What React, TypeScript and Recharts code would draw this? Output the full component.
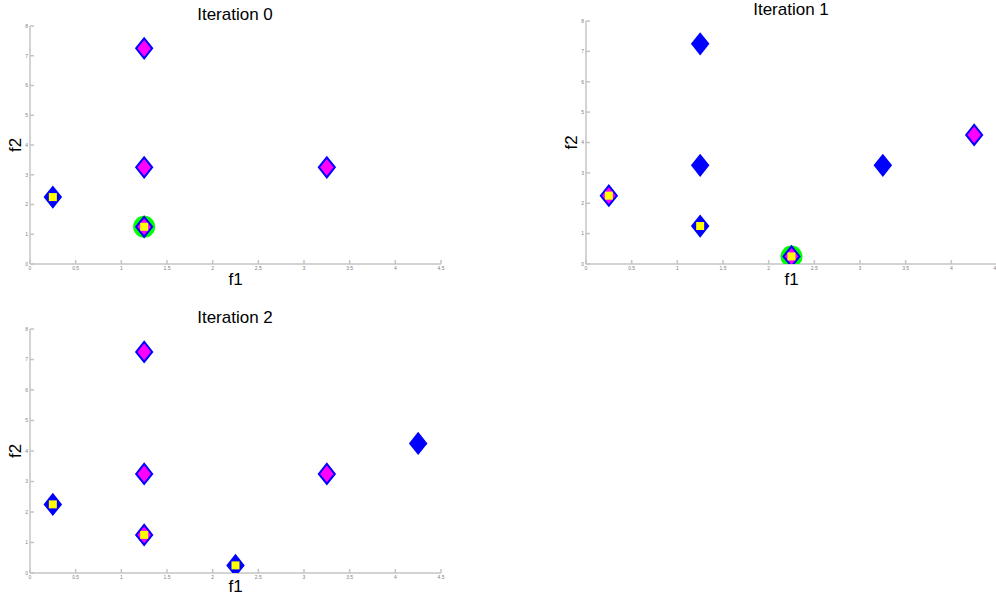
import { ScatterChart, Scatter, XAxis, YAxis, Label } from 'recharts';

type Pt = [number, number];

// tick labels (MATLAB style)
const xTicks = [0, 0.5, 1, 1.5, 2, 2.5, 3, 3.5, 4, 4.5];
const yTicks = [0, 1, 2, 3, 4, 5, 6, 7, 8];

const titles = ['Iteration 0', 'Iteration 1', 'Iteration 2'];

// Iteration 0
const iter0Circle: Pt[] = [[1.25, 1.25]];
const iter0Blue: Pt[] = [[0.25, 2.25]];
const iter0Magenta: Pt[] = [
  [1.25, 1.25],
  [1.25, 3.25],
  [1.25, 7.25],
  [3.25, 3.25],
];
const iter0Square: Pt[] = [
  [0.25, 2.25],
  [1.25, 1.25],
];

// Iteration 1
const iter1Circle: Pt[] = [[2.25, 0.25]];
const iter1Blue: Pt[] = [
  [1.25, 1.25],
  [1.25, 3.25],
  [1.25, 7.25],
  [3.25, 3.25],
];
const iter1Magenta: Pt[] = [
  [0.25, 2.25],
  [2.25, 0.25],
  [4.25, 4.25],
];
const iter1Square: Pt[] = [
  [0.25, 2.25],
  [1.25, 1.25],
  [2.25, 0.25],
];

// Iteration 2
const iter2Circle: Pt[] = [];
const iter2Blue: Pt[] = [
  [0.25, 2.25],
  [2.25, 0.25],
  [4.25, 4.25],
];
const iter2Magenta: Pt[] = [
  [1.25, 1.25],
  [1.25, 3.25],
  [1.25, 7.25],
  [3.25, 3.25],
];
const iter2Square: Pt[] = [
  [0.25, 2.25],
  [1.25, 1.25],
  [2.25, 0.25],
];

const FONT = '"Liberation Sans", Arial, sans-serif';
const AXIS = '#c4c4c4';

const toRows = (pts: Pt[]) => pts.map(([f1, f2]) => ({ f1, f2 }));

const diamond = (fill: string) => (p: any) => {
  const { cx, cy } = p;
  return (
    <path
      d={`M${cx},${cy - 10} L${cx + 8},${cy} L${cx},${cy + 10} L${cx - 8},${cy} Z`}
      fill={fill}
      stroke='#0000ff'
      strokeWidth={2}
    />
  );
};
const square = (p: any) => (
  <rect x={p.cx - 4} y={p.cy - 4} width={8} height={8} fill='#ffff00' />
);
const circle = (p: any) => <circle cx={p.cx} cy={p.cy} r={11} fill='#00ff00' />;

function Panel({
  left,
  top,
  height,
  marginTop,
  marginBottom,
  labelOffset,
  title,
  titleTop,
  circles,
  blue,
  magenta,
  squares,
}: {
  left: number;
  top: number;
  height: number;
  marginTop: number;
  marginBottom: number;
  labelOffset: number;
  title: string;
  titleTop: number;
  circles: Pt[];
  blue: Pt[];
  magenta: Pt[];
  squares: Pt[];
}) {
  const tickStyle = { fontSize: 5, fill: '#808080', fontFamily: FONT };
  return (
    <>
      <div
        style={{
          position: 'absolute',
          left: left + 30 + 205 - 120,
          top: titleTop,
          width: 240,
          textAlign: 'center',
          fontSize: 17,
          lineHeight: '17px',
          fontFamily: FONT,
          color: '#000',
        }}
      >
        {title}
      </div>
      <div style={{ position: 'absolute', left, top }}>
        <ScatterChart
          width={460}
          height={height}
          margin={{ top: marginTop, right: 19, bottom: marginBottom, left: 0 }}
          style={{ overflow: 'visible' }}
        >
          <XAxis
            type='number'
            dataKey='f1'
            domain={[0, 4.5]}
            ticks={xTicks}
            interval={0}
            height={20}
            tickSize={-4}
            tickMargin={6}
            stroke={AXIS}
            strokeWidth={1.5}
            tick={tickStyle}
            allowDataOverflow
          >
            <Label
              value='f1'
              position='insideTop'
              offset={labelOffset}
              fill='#000'
              style={{ fontSize: 17, fontFamily: FONT, fill: '#000' }}
            />
          </XAxis>
          <YAxis
            type='number'
            dataKey='f2'
            domain={[0, 8]}
            ticks={yTicks}
            interval={0}
            width={30}
            tickSize={-4}
            tickMargin={6}
            stroke={AXIS}
            strokeWidth={1.5}
            tick={tickStyle}
            allowDataOverflow
          >
            <Label
              value='f2'
              angle={-90}
              position='center'
              fill='#000'
              style={{ fontSize: 17, fontFamily: FONT, fill: '#000' }}
            />
          </YAxis>
          <Scatter data={toRows(circles)} shape={circle} isAnimationActive={false} />
          <Scatter data={toRows(blue)} shape={diamond('#0000ff')} isAnimationActive={false} />
          <Scatter data={toRows(magenta)} shape={diamond('#ff00ff')} isAnimationActive={false} />
          <Scatter data={toRows(squares)} shape={square} isAnimationActive={false} />
        </ScatterChart>
      </div>
    </>
  );
}

export default function App() {
  return (
    <div
      style={{
        position: 'absolute',
        left: 0,
        top: 0,
        width: 996,
        height: 596,
        overflow: 'hidden',
        background: '#fff',
      }}
    >
      <Panel
        left={0}
        top={0}
        height={300}
        marginTop={26}
        marginBottom={16}
        labelOffset={9}
        title={titles[0]}
        titleTop={6}
        circles={iter0Circle}
        blue={iter0Blue}
        magenta={iter0Magenta}
        squares={iter0Square}
      />
      <Panel
        left={556}
        top={0}
        height={300}
        marginTop={21}
        marginBottom={16}
        labelOffset={9}
        title={titles[1]}
        titleTop={1}
        circles={iter1Circle}
        blue={iter1Blue}
        magenta={iter1Magenta}
        squares={iter1Square}
      />
      <Panel
        left={0}
        top={300}
        height={296}
        marginTop={29}
        marginBottom={3}
        labelOffset={7}
        title={titles[2]}
        titleTop={309}
        circles={iter2Circle}
        blue={iter2Blue}
        magenta={iter2Magenta}
        squares={iter2Square}
      />
    </div>
  );
}
